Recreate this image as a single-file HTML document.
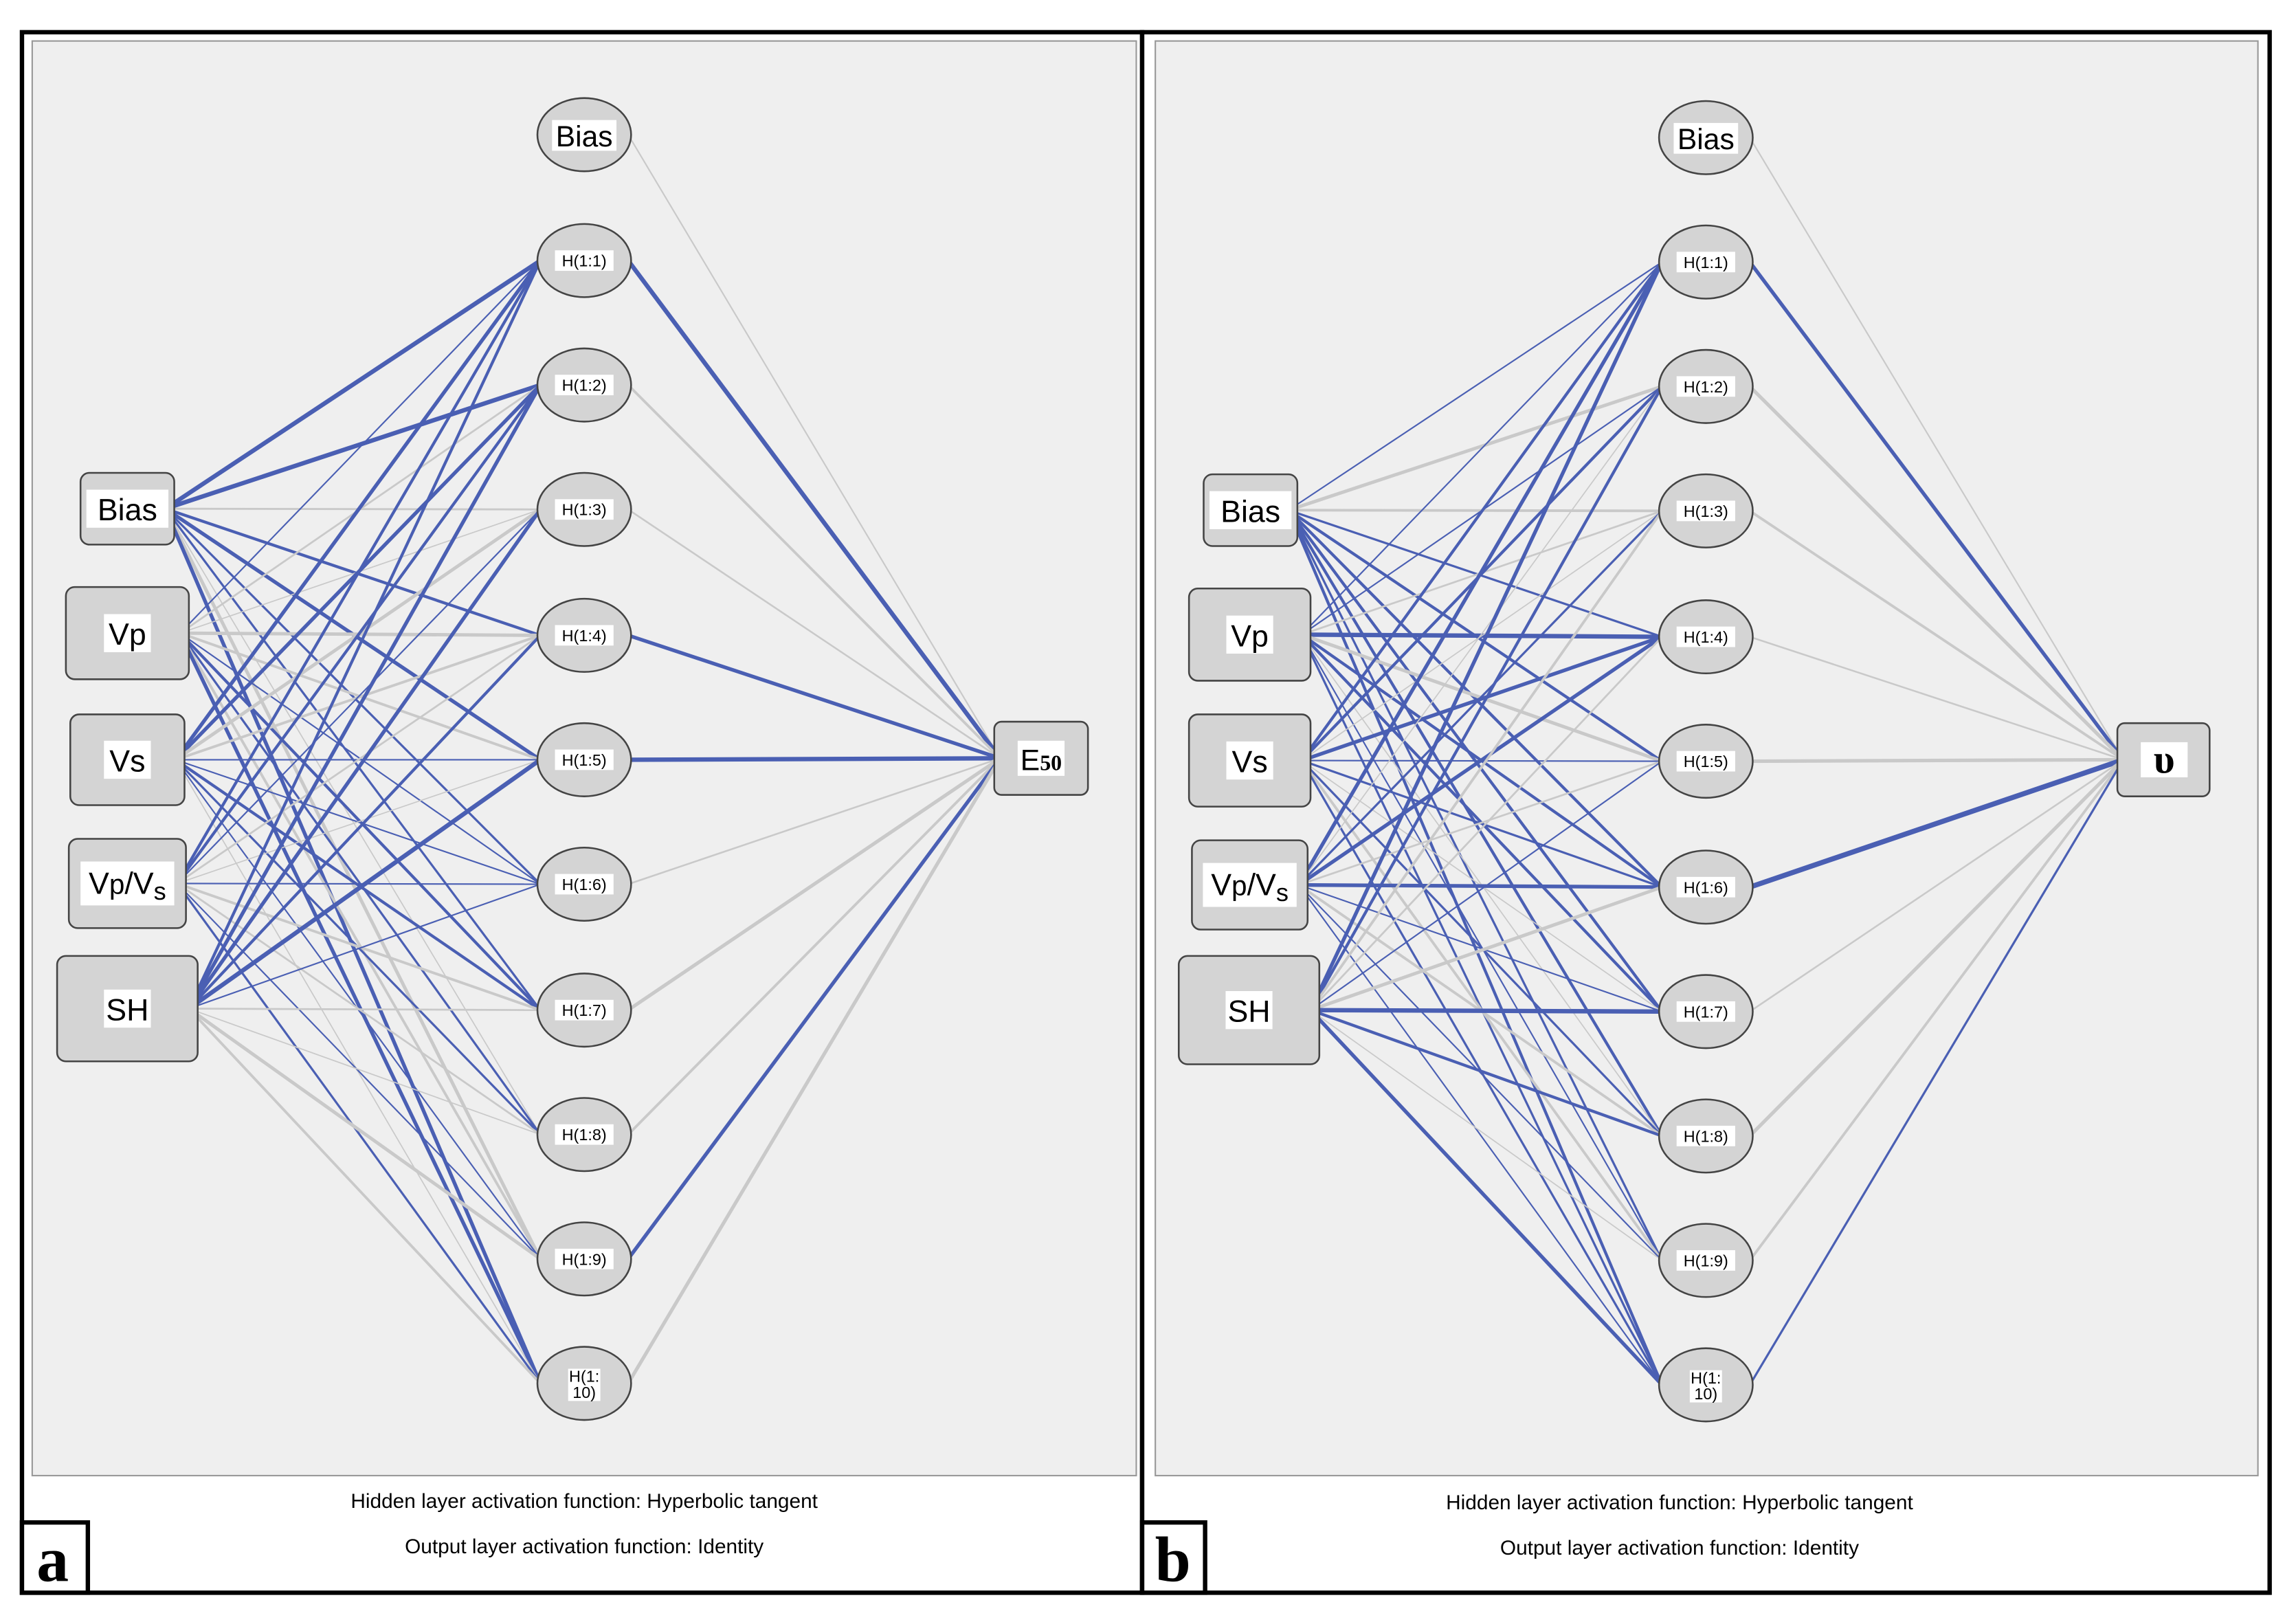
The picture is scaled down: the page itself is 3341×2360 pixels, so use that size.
<!DOCTYPE html>
<html><head><meta charset="utf-8"><style>
html,body{margin:0;padding:0;background:#fff;width:3341px;height:2360px;overflow:hidden}
svg{display:block}
text{font-family:"Liberation Sans",sans-serif}
</style></head><body>
<svg id="s" width="3341" height="2360" viewBox="0 0 1568 1108" preserveAspectRatio="none" xmlns="http://www.w3.org/2000/svg">
<rect x="0" y="0" width="1568" height="1108" fill="#fff"/>
<rect x="15" y="22" width="765" height="1066" fill="#fff" stroke="#000" stroke-width="3"/>
<rect x="780" y="22" width="770" height="1066" fill="#fff" stroke="#000" stroke-width="3"/>
<rect x="22" y="28" width="754" height="980" fill="#efefef" stroke="#999" stroke-width="1"/>
<rect x="789" y="28" width="753" height="980" fill="#efefef" stroke="#999" stroke-width="1"/>
<g id="edges"></g>
<g id="nodes"></g>
<text x="399" y="1030" font-size="14" text-anchor="middle">Hidden layer activation function: Hyperbolic tangent</text>
<text x="399" y="1061" font-size="14" text-anchor="middle">Output layer activation function: Identity</text>
<text x="1147" y="1031" font-size="14" text-anchor="middle">Hidden layer activation function: Hyperbolic tangent</text>
<text x="1147" y="1062" font-size="14" text-anchor="middle">Output layer activation function: Identity</text>
<rect x="15" y="1040" width="45" height="48" fill="#fff" stroke="#000" stroke-width="3"/>
<text x="36" y="1080" font-size="44" font-weight="bold" text-anchor="middle" font-family="Liberation Serif,serif" style="font-family:'Liberation Serif',serif">a</text>
<rect x="780" y="1040" width="43" height="48" fill="#fff" stroke="#000" stroke-width="3"/>
<text x="801" y="1080" font-size="44" font-weight="bold" text-anchor="middle" style="font-family:'Liberation Serif',serif">b</text>
</svg>
<script>
var NS="http://www.w3.org/2000/svg";
var E=document.getElementById("edges"),N=document.getElementById("nodes");
function el(t,a,p,txt){var e=document.createElementNS(NS,t);for(var k in a)e.setAttribute(k,a[k]);if(txt!==undefined)e.textContent=txt;(p||N).appendChild(e);return e;}
var B="#4a5fb3",G="#c9c9c9";
var panels=[
{hx:399,hy:[92,178,263,348,434,519,604,690,775,860,945],
 inp:[[55,323,64,49,"Bias"],[45,401,84,63,"Vp"],[48,488,78,62,"Vs"],[47,573,80,61,"Vp/Vs"],[39,653,96,72,"SH"]],
 out:[679,493,64,50,"E50"],
 blue:{0:{1:3,2:3,4:2,5:2.5,6:1.5,7:1.5,10:2.5},1:{1:1,6:1,7:2,8:1.5,10:2.5},2:{1:2.5,2:2.5,5:1,6:1,7:2,8:1.5,9:1},3:{1:2,2:2,3:1,6:1,9:1,10:1.5},4:{1:2,2:2.5,3:2.5,4:2,5:3,6:1}},
 ob:{1:3,4:2.5,5:3,9:2.5}},
{hx:1165,hy:[94,179,264,349,435,520,606,691,776,861,946],
 inp:[[822,324,64,49,"Bias"],[812,402,83,63,"Vp"],[812,488,83,63,"Vs"],[814,574,79,61,"Vp/Vs"],[805,653,96,74,"SH"]],
 out:[1446,494,63,50,"υ"],
 blue:{0:{1:1,4:1.5,5:2,6:2,7:2,8:2,9:1.5,10:2},1:{1:1,2:1,4:3,6:2,7:2,9:1,10:1.5},2:{1:2,2:2,4:2.5,5:1,6:1.5,8:1.5,10:1.5},3:{1:2.5,3:1.5,4:2.5,6:2.5,7:1,9:1,10:1},4:{1:2.5,2:2,5:1,7:3,8:2,10:2.5}},
 ob:{1:2.5,6:3.5,10:1.5}}
];
panels.forEach(function(P,pi){
  var ox=P.out[0],oy=P.out[1]+P.out[3]/2;
  P.inp.forEach(function(b,i){
    var sx=b[0]+b[2]-6,sy=b[1]+b[3]/2;
    for(var j=1;j<=10;j++){
      var w=P.blue[i][j];var c=B;
      if(!w){c=G;w=((i*7+j*3+pi)%4)*0.5+0.8;}
      el("line",{x1:sx,y1:sy,x2:P.hx-30,y2:P.hy[j],stroke:c,"stroke-width":w},E);
    }
  });
  for(var j=0;j<=10;j++){
    var w=P.ob[j],c=B;
    if(!w){c=G;w=j==0?1:((j*5+pi)%3)*0.6+1.2;}
    el("line",{x1:P.hx+30,y1:P.hy[j],x2:ox+4,y2:oy,stroke:c,"stroke-width":w},E);
  }
  P.hy.forEach(function(y,j){
    el("ellipse",{cx:P.hx,cy:y,rx:32,ry:25,fill:"#d4d4d4",stroke:"#444","stroke-width":1.2});
    if(j==0){el("rect",{x:P.hx-22,y:y-10,width:44,height:21,fill:"#fff"});el("text",{x:P.hx,y:y+8,"font-size":20,"text-anchor":"middle"},N,"Bias");}
    else if(j<10){el("rect",{x:P.hx-20,y:y-7,width:40,height:14,fill:"#fff"});el("text",{x:P.hx,y:y+4,"font-size":11,"text-anchor":"middle"},N,"H(1:"+j+")");}
    else{el("rect",{x:P.hx-11,y:y-10,width:22,height:22,fill:"#fff"});el("text",{x:P.hx,y:y-1,"font-size":11,"text-anchor":"middle"},N,"H(1:");el("text",{x:P.hx,y:y+10,"font-size":11,"text-anchor":"middle"},N,"10)");}
  });
  P.inp.forEach(function(b){
    el("rect",{x:b[0],y:b[1],width:b[2],height:b[3],rx:6,fill:"#d4d4d4",stroke:"#444","stroke-width":1.2});
    var cx=b[0]+b[2]/2,cy=b[1]+b[3]/2;
    if(b[4]=="Vp/Vs"){
      el("rect",{x:cx-32,y:cy-15,width:64,height:30,fill:"#fff"});
      var t=el("text",{x:cx,y:cy+7,"font-size":21,"text-anchor":"middle"});
      t.innerHTML='V<tspan font-size="19">p</tspan>/V<tspan font-size="17" dy="4">s</tspan>';
    } else {
      var w=b[4].length*12+8;
      el("rect",{x:cx-w/2,y:cy-13,width:w,height:26,fill:"#fff"});
      el("text",{x:cx,y:cy+8,"font-size":21,"text-anchor":"middle"},N,b[4]);
    }
  });
  var o=P.out;
  el("rect",{x:o[0],y:o[1],width:o[2],height:o[3],rx:5,fill:"#d4d4d4",stroke:"#444","stroke-width":1.2});
  el("rect",{x:o[0]+16,y:o[1]+13,width:32,height:24,fill:"#fff"});
  if(o[4]=="E50"){var t=el("text",{x:o[0]+32,y:o[1]+33,"font-size":20,"text-anchor":"middle"});t.innerHTML='E<tspan font-size="15" font-weight="bold" style="font-family:\'Liberation Serif\',serif">50</tspan>';}
  else el("text",{x:o[0]+32,y:o[1]+34,"font-size":28,"font-weight":"bold","text-anchor":"middle",style:"font-family:'Liberation Serif',serif"},N,"υ");
});
</script>
</body></html>
